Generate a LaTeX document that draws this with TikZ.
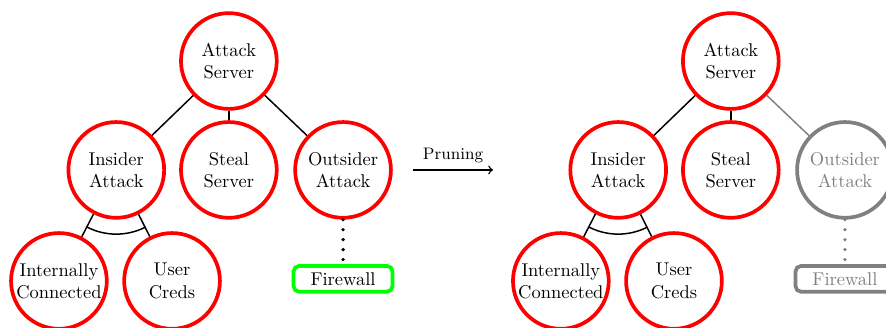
\documentclass[tikz,border=0pt]{standalone}
\usepackage{tikz}
\usetikzlibrary{positioning, calc}

\begin{document}
\begin{tikzpicture}[
        goal/.style={circle, draw=red, line width=2pt, minimum size=1.82cm, align=center, inner sep=0pt},
        pruned/.style={circle, draw=gray, text=gray, line width=2pt, minimum size=1.82cm, align=center, inner sep=0pt},
        defense/.style={rectangle, rounded corners=3pt, draw=green, line width=2pt, minimum width=1.88cm, minimum height=0.49cm},
        prundef/.style={rectangle, rounded corners=3pt, draw=gray, text=gray, line width=2pt, minimum width=1.88cm, minimum height=0.49cm},
        edge/.style={thick},
        guard/.style={line width=2pt, line cap=round, dash pattern=on 0pt off 5.4pt}
    ]
    \clip (0,0) rectangle (16.84,-6.22);

    % left tree
    \node[goal] (as) at (4.35,-1.16) {Attack\\Server};
    \node[goal] (ia) at (2.21,-3.23) {Insider\\Attack};
    \node[goal] (ss) at (4.35,-3.23) {Steal\\Server};
    \node[goal] (oa) at (6.52,-3.23) {Outsider\\Attack};
    \node[goal] (ic) at (1.12,-5.34) {Internally\\Connected};
    \node[goal] (uc) at (3.27,-5.34) {User\\Creds};
    \node[defense] (fw) at (6.52,-5.30) {Firewall};

    \draw[edge] (as) -- (ia);
    \draw[edge] (as) -- (ss);
    \draw[edge] (as) -- (oa);
    \draw[edge] (ia) -- (ic);
    \draw[edge] (ia) -- (uc);
    \draw[edge] ([shift={(243:1.22)}]ia.center) arc[start angle=243, end angle=297, radius=1.22cm];
    \draw[guard] (oa) -- (fw);

    % pruning arrow
    \coordinate (pa) at (7.85,-3.23);
    \coordinate (pb) at (9.37,-3.23);
    \draw[->, thick] (pa) -- node[above] {\small Pruning} (pb);

    % right tree
    \node[goal] (as2) at (13.89,-1.16) {Attack\\Server};
    \node[goal] (ia2) at (11.75,-3.23) {Insider\\Attack};
    \node[goal] (ss2) at (13.89,-3.23) {Steal\\Server};
    \node[pruned] (oa2) at (16.06,-3.23) {Outsider\\Attack};
    \node[goal] (ic2) at (10.66,-5.34) {Internally\\Connected};
    \node[goal] (uc2) at (12.81,-5.34) {User\\Creds};
    \node[prundef] (fw2) at (16.06,-5.30) {Firewall};

    \draw[edge] (as2) -- (ia2);
    \draw[edge] (as2) -- (ss2);
    \draw[edge, gray] (as2) -- (oa2);
    \draw[edge] (ia2) -- (ic2);
    \draw[edge] (ia2) -- (uc2);
    \draw[edge] ([shift={(243:1.22)}]ia2.center) arc[start angle=243, end angle=297, radius=1.22cm];
    \draw[guard, gray] (oa2) -- (fw2);
\end{tikzpicture}
\end{document}
